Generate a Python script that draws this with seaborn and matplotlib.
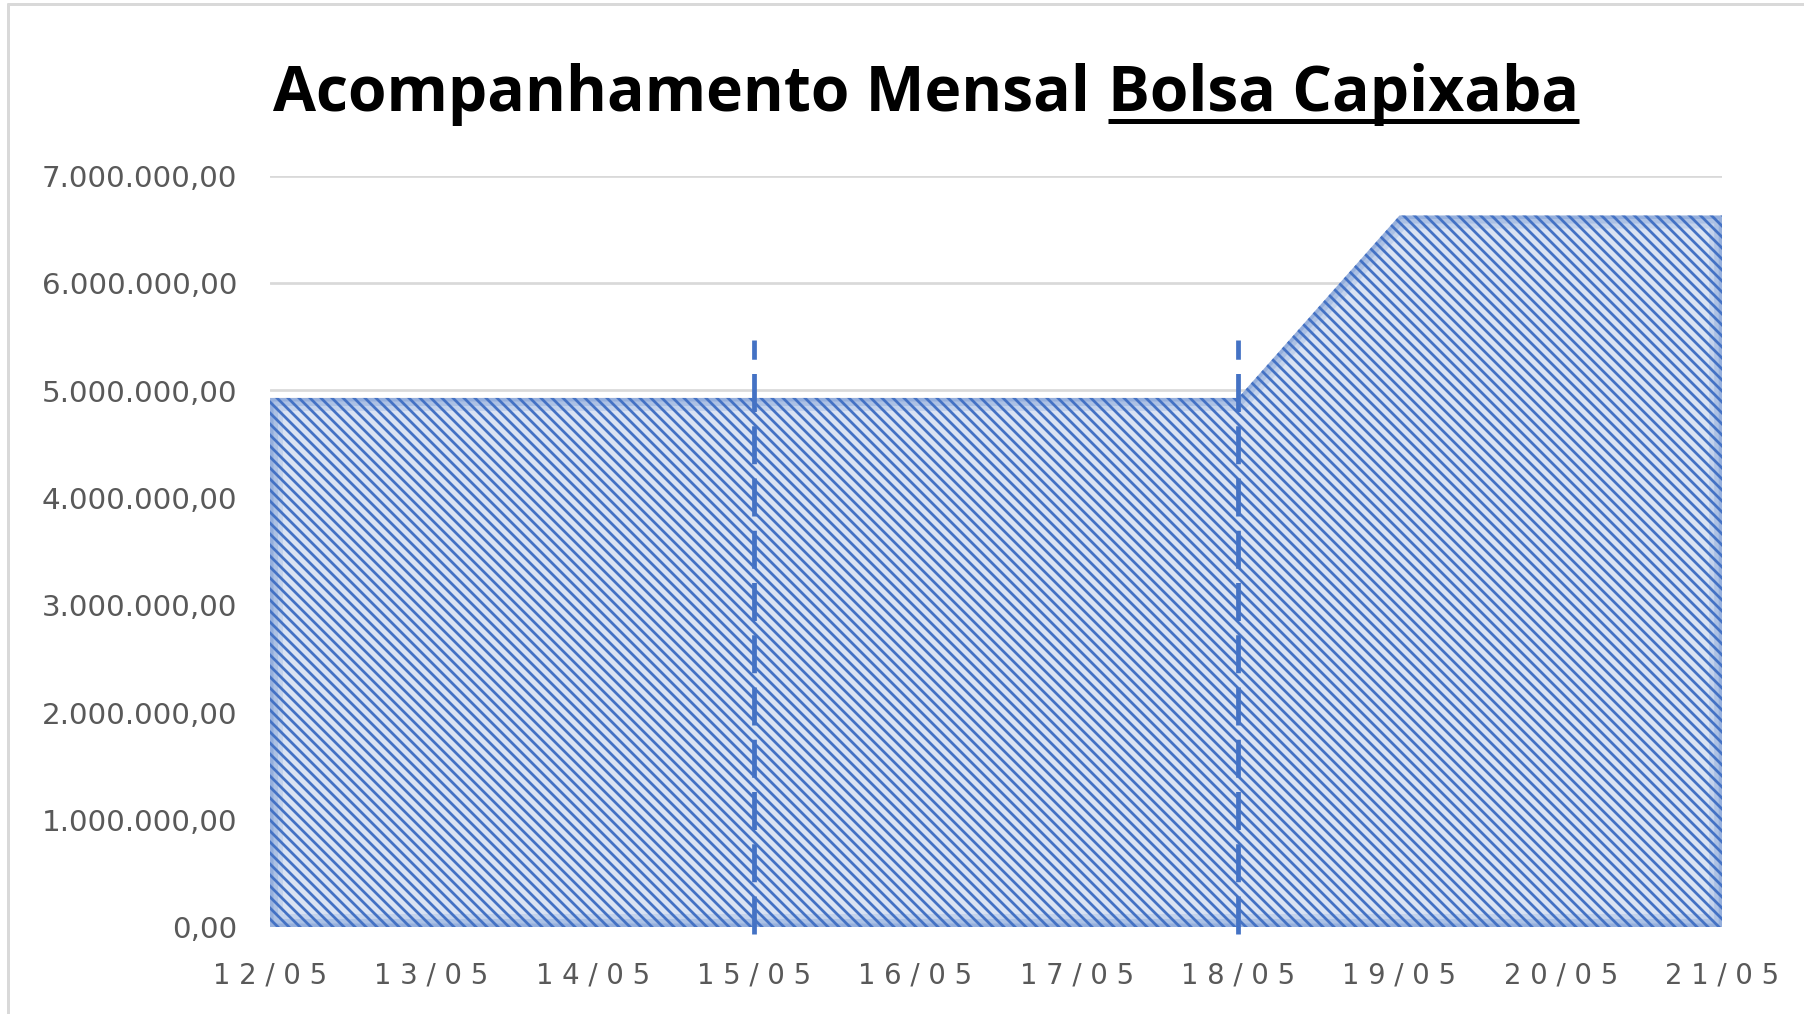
import matplotlib
matplotlib.use("Agg")
import matplotlib.pyplot as plt
from matplotlib.lines import Line2D
import seaborn as sns
import pandas as pd

# dados
datas = ["12/05", "13/05", "14/05", "15/05", "16/05", "17/05", "18/05", "19/05", "20/05", "21/05"]
valores = [4930000, 4930000, 4930000, 4930000, 4930000, 4930000, 4930000, 6630000, 6630000, 6630000]
marcos = ["15/05", "18/05"]
marco_topo = 5470000
marco_base = -70000
yticks = [0, 1000000, 2000000, 3000000, 4000000, 5000000, 6000000, 7000000]

titulo_1 = "Acompanhamento Mensal"
titulo_2 = "Bolsa Capixaba"

AZUL = "#4472C4"
AZUL_CLARO = "#DAE3F3"
CINZA = "#D9D9D9"
TEXTO = "#595959"

DPI = 132
W, H = 1804, 1014


def px(v):
    # pixels -> pontos
    return v * 72 / DPI


def fmt_br(v):
    s = f"{v:,.2f}"
    return s.replace(",", "X").replace(".", ",").replace("X", ".")


sns.set_theme(style="white")
plt.rcParams["font.family"] = ["DejaVu Sans"]
plt.rcParams["hatch.color"] = AZUL
plt.rcParams["hatch.linewidth"] = 1.5

df = pd.DataFrame({"data": datas, "valor": valores})
df["pos"] = range(len(df))

fig = plt.figure(figsize=((W + 0.2) / DPI, (H + 0.2) / DPI), dpi=DPI)
ax = fig.add_axes([270 / W, 1 - 927 / H, 1452 / W, 751 / H])

# area com hachura
poly = ax.fill_between(df["pos"], df["valor"], 0, facecolor=AZUL_CLARO, edgecolor=AZUL,
                       linewidth=0, hatch="\\\\\\\\", zorder=2)
clip = poly.get_paths()[0]

# brilho nas bordas da area
ox = [0] + list(df["pos"]) + [df["pos"].iloc[-1], 0]
oy = [0] + list(df["valor"]) + [0, 0]
contorno = pd.DataFrame({"x": ox, "y": oy})
for w, a in [(26, 0.14), (16, 0.18), (7, 0.22)]:
    sns.lineplot(data=contorno, x="x", y="y", sort=False, estimator=None, ax=ax,
                 color=AZUL, alpha=a, linewidth=px(w), zorder=3)
    ax.lines[-1].set_clip_path(clip, ax.transData)

# linhas tracejadas
for m in marcos:
    ax.vlines(datas.index(m), marco_base, marco_topo, colors=AZUL, linewidth=px(4.75),
              linestyles=(0, (8, 3)), zorder=4, clip_on=False)

ax.axhline(0, color=CINZA, linewidth=px(4), zorder=1.5)

ax.set_xlim(0, len(datas) - 1)
ax.set_ylim(0, 7000000)
ax.set_yticks(yticks)
ax.set_yticklabels([fmt_br(v) for v in yticks])
ax.set_xticks(df["pos"])
ax.set_xticklabels([" ".join(d) for d in datas])
ax.yaxis.grid(True, color=CINZA, linewidth=px(2.7))
ax.xaxis.grid(False)
ax.set_axisbelow(True)
ax.set_xlabel("")
ax.set_ylabel("")
for s in ax.spines.values():
    s.set_visible(False)
ax.tick_params(axis="y", length=0, pad=px(33), labelsize=16, labelcolor=TEXTO)
ax.tick_params(axis="x", length=0, pad=px(34), labelsize=15, labelcolor=TEXTO)

# titulo com sublinhado na segunda parte
base_y = 1 - 111 / H
fonte_titulo = dict(fontsize=34, fontweight="bold", color="black", family=["Open Sans", "DejaVu Sans"],
                    ha="left", va="baseline")
t1 = fig.text(0, base_y, titulo_1, **fonte_titulo)
t2 = fig.text(0, base_y, titulo_2, **fonte_titulo)
fig.canvas.draw()
r = fig.canvas.get_renderer()
b1 = t1.get_window_extent(r)
b2 = t2.get_window_extent(r)
gap = 18
total = b1.width + gap + b2.width
x0 = 926 - total / 2
t1.set_x(x0 / W)
t2.set_x((x0 + b1.width + gap) / W)
u0 = x0 + b1.width + gap
u1 = u0 + b2.width
uy = 1 - 121.5 / H
fig.add_artist(Line2D([u0 / W, u1 / W], [uy, uy], transform=fig.transFigure,
                      color="black", linewidth=px(5), solid_capstyle="butt"))

# moldura do grafico
fig.add_artist(Line2D([8 / W, 8 / W], [0, 1 - 4 / H], transform=fig.transFigure,
                      color=CINZA, linewidth=px(3)))
fig.add_artist(Line2D([8 / W, 1], [1 - 4 / H, 1 - 4 / H], transform=fig.transFigure,
                      color=CINZA, linewidth=px(3)))

fig.savefig("out.png", dpi=DPI)
